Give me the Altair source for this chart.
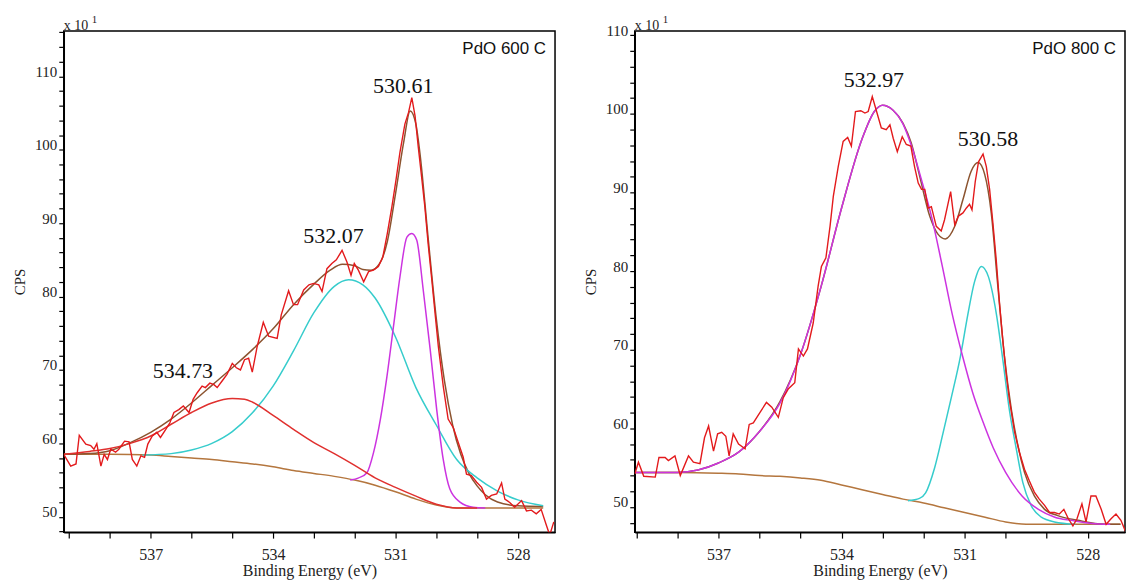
import altair as alt
import pandas as pd

SERIF = "Liberation Serif"
SANS = "Liberation Sans"

# ---------------- PdO 600 C ----------------
p600_raw_E = [539.13, 538.96, 538.83, 538.75, 538.59, 538.47, 538.39, 538.32, 538.22, 538.14,
              538.06, 537.98, 537.86, 537.78, 537.64, 537.53, 537.45, 537.34, 537.24, 537.15,
              537.07, 536.96, 536.85, 536.76, 536.63, 536.53, 536.43, 536.31, 536.20, 536.06,
              535.96, 535.86, 535.74, 535.66, 535.55, 535.45, 535.37, 535.25, 535.13, 535.00,
              534.90, 534.80, 534.70, 534.60, 534.51, 534.39, 534.24, 534.11, 533.90, 533.80,
              533.62, 533.50, 533.40, 533.25, 533.12, 533.01, 532.88, 532.80, 532.68, 532.56,
              532.45, 532.31, 532.19, 532.09, 532.01, 531.91, 531.78, 531.66, 531.54, 531.42,
              531.31, 531.20, 531.09, 530.99, 530.89, 530.77, 530.68, 530.60, 530.52, 530.44,
              530.36, 530.28, 530.20, 530.11, 530.03, 529.95, 529.91, 529.83, 529.71, 529.58,
              529.46, 529.34, 529.26, 529.14, 529.01, 528.89, 528.77, 528.65, 528.52, 528.40,
              528.32, 528.20, 528.08, 527.91, 527.79, 527.67, 527.55, 527.43, 527.30, 527.22,
              527.12]
p600_raw_V = [58.5, 56.9, 57.2, 61.1, 59.9, 59.7, 59.2, 59.95, 56.9, 58.5,
              57.8, 59.2, 58.8, 59.2, 60.3, 60.2, 57.8, 56.9, 58.3, 58.1,
              59.9, 61.0, 61.5, 60.8, 61.9, 62.8, 64.2, 64.6, 65.1, 64.2,
              66.0, 66.9, 67.8, 67.6, 68.2, 68.0, 67.6, 68.5, 69.4, 70.9,
              70.3, 70.0, 71.4, 71.6, 69.7, 73.2, 76.5, 74.6, 74.3, 77.5,
              80.8, 78.9, 78.9, 80.9, 81.6, 81.8, 81.6, 80.7, 83.8, 84.5,
              85.0, 86.3, 84.7, 82.9, 84.5, 83.6, 82.0, 83.4, 83.6, 84.1,
              85.4, 88.6, 92.2, 95.8, 99.7, 103.5, 105.1, 107.1, 104.6, 100.3,
              96.3, 92.2, 87.2, 82.3, 77.7, 73.2, 71.4, 67.8, 63.3, 62.1,
              60.1, 58.1, 55.8, 55.6, 54.7, 54.0, 52.4, 52.9, 53.1, 54.6,
              52.4, 51.95, 51.3, 52.2, 50.8, 50.9, 50.4, 51.0, 48.8, 47.5,
              49.3]

p600_env_E = [539.13, 538.5, 538.0, 537.5, 537.0, 536.5, 536.0, 535.5, 535.0, 534.5, 534.0,
              533.5, 533.0, 532.6, 532.3, 532.0, 531.8, 531.6, 531.4, 531.2, 531.0, 530.8,
              530.64, 530.5, 530.4, 530.2, 530.0, 529.8, 529.6, 529.4, 529.2, 529.0, 528.8,
              528.5, 528.0, 527.38]
p600_env_V = [58.5, 58.6, 59.0, 60.1, 61.5, 63.3, 65.5, 67.9, 70.3, 72.8, 75.6,
              78.9, 81.7, 83.6, 84.4, 84.2, 83.7, 83.6, 84.4, 87.5, 94.0, 101.0,
              105.3, 103.5, 99.5, 88.0, 77.0, 68.5, 62.5, 58.5, 55.9, 54.2, 53.0,
              52.0, 51.5, 51.4]

p600_bg_E = [539.13, 538.0, 537.0, 536.5, 536.0, 535.5, 535.0, 534.5, 534.0, 533.5, 533.0,
             532.5, 532.0, 531.5, 531.0, 530.5, 530.0, 529.5, 529.0, 527.38]
p600_bg_V = [58.5, 58.5, 58.4, 58.2, 58.0, 57.8, 57.5, 57.2, 56.8, 56.3, 55.9,
             55.5, 55.0, 54.3, 53.4, 52.4, 51.6, 51.2, 51.2, 51.2]

p600_c1_E = [539.13, 538.5, 538.0, 537.5, 537.0, 536.5, 536.0, 535.5, 535.0, 534.7, 534.5,
             534.0, 533.5, 533.0, 532.5, 532.0, 531.5, 531.0, 530.5, 530.0, 529.5, 529.0]
p600_c1_V = [58.5, 58.9, 59.3, 60.0, 61.0, 62.6, 64.2, 65.5, 66.1, 66.0, 65.6,
             63.8, 61.9, 60.1, 58.6, 57.0, 55.3, 54.0, 52.8, 51.7, 51.2, 51.2]

p600_c2_E = [537.2, 536.5, 536.0, 535.5, 535.0, 534.5, 534.0, 533.5, 533.0, 532.5, 532.15,
             531.8, 531.5, 531.0, 530.5, 530.0, 529.5, 529.0, 528.5, 528.0, 527.38]
p600_c2_V = [58.4, 58.6, 59.1, 60.0, 61.6, 64.2, 67.8, 72.6, 77.8, 81.4, 82.3,
             81.6, 79.8, 74.5, 67.6, 62.5, 57.8, 55.3, 53.5, 52.3, 51.5]

p600_c3_E = [532.11, 531.9, 531.70, 531.54, 531.37, 531.21, 531.05, 530.89, 530.72, 530.60,
             530.48, 530.32, 530.15, 529.99, 529.83, 529.67, 529.42, 529.10, 528.8]
p600_c3_V = [55.0, 55.3, 56.0, 58.7, 63.3, 69.1, 75.9, 82.7, 88.1, 88.6,
             87.7, 80.9, 72.8, 64.6, 57.8, 53.8, 52.0, 51.3, 51.2]

p600_lab_text = ["530.61", "532.07", "534.73"]
p600_lab_E = [530.81, 532.52, 536.21]
p600_lab_V = [107.8, 87.3, 68.9]

# ---------------- PdO 800 C ----------------
p800_raw_E = [539.04, 538.95, 538.82, 538.54, 538.45, 538.30, 538.22, 538.06, 537.93, 537.73,
              537.61, 537.45, 537.34, 537.24, 537.12, 537.02, 536.92, 536.82, 536.74, 536.64,
              536.51, 536.35, 536.25, 536.15, 535.99, 535.83, 535.70, 535.54, 535.42, 535.30,
              535.14, 535.05, 534.93, 534.83, 534.69, 534.57, 534.49, 534.38, 534.28, 534.20,
              534.08, 533.96, 533.85, 533.76, 533.66, 533.53, 533.43, 533.35, 533.25, 533.15,
              533.03, 532.91, 532.82, 532.74, 532.64, 532.52, 532.42, 532.31, 532.22, 532.13,
              532.05, 531.97, 531.89, 531.81, 531.69, 531.57, 531.49, 531.34, 531.24, 531.15,
              531.04, 530.96, 530.88, 530.82, 530.74, 530.66, 530.55, 530.47, 530.39, 530.31,
              530.23, 530.15, 530.07, 529.99, 529.91, 529.78, 529.66, 529.54, 529.42, 529.30,
              529.18, 529.05, 528.93, 528.81, 528.69, 528.58, 528.47, 528.36, 528.26, 528.14,
              528.04, 527.92, 527.80, 527.67, 527.55, 527.43, 527.31, 527.19, 527.07]
p800_raw_V = [54.2, 55.7, 53.9, 53.8, 56.3, 56.3, 55.9, 56.5, 54.0, 56.5,
              55.7, 55.5, 58.8, 60.3, 57.1, 59.3, 59.5, 59.0, 56.5, 59.3,
              58.0, 57.4, 60.5, 60.7, 62.0, 63.3, 62.7, 61.4, 63.9, 65.0,
              65.8, 70.1, 69.2, 70.1, 73.4, 78.1, 80.6, 81.7, 85.7, 89.5,
              93.3, 96.5, 97.0, 95.9, 100.3, 100.4, 100.1, 100.3, 102.2, 100.4,
              98.2, 98.0, 98.6, 96.9, 95.2, 97.1, 96.1, 95.9, 93.3, 91.2,
              90.4, 90.4, 88.0, 88.2, 85.7, 85.1, 86.5, 90.1, 85.9, 87.0,
              87.4, 88.0, 88.5, 87.8, 91.4, 93.9, 94.9, 93.3, 90.4, 86.1,
              81.5, 76.0, 71.3, 67.1, 63.7, 59.5, 56.9, 54.8, 53.3, 51.9,
              51.0, 50.2, 49.3, 49.3, 49.1, 49.7, 48.5, 47.6, 48.5, 50.4,
              48.1, 51.4, 51.4, 49.7, 47.8, 48.5, 49.1, 48.3, 46.8]

p800_env_E = [539.04, 538.0, 537.5, 537.0, 536.5, 536.0, 535.5, 535.0, 534.5, 534.0, 533.5,
              533.2, 533.0, 532.75, 532.5, 532.3, 532.1, 531.85, 531.65, 531.47, 531.24,
              531.04, 530.84, 530.67, 530.51, 530.35, 530.19, 530.03, 529.86, 529.7,
              529.54, 529.3, 529.05, 528.73, 528.24, 527.59, 527.2]
p800_env_V = [54.4, 54.4, 54.7, 55.6, 57.0, 59.6, 63.4, 69.4, 78.0, 88.0, 96.8,
              100.3, 101.1, 100.5, 98.8, 96.3, 92.2, 87.0, 84.7, 84.1, 85.7,
              89.1, 92.7, 93.8, 92.3, 87.4, 78.1, 69.2, 62.4, 57.8,
              54.4, 51.4, 49.7, 48.9, 48.3, 47.8, 47.8]

p800_bg_E = [539.04, 538.0, 537.0, 536.5, 536.0, 535.5, 535.0, 534.5, 534.0, 533.5, 533.0,
             532.5, 532.0, 531.5, 531.0, 530.5, 530.0, 529.5, 527.2]
p800_bg_V = [54.4, 54.4, 54.3, 54.2, 54.0, 53.9, 53.7, 53.4, 52.8, 52.2, 51.6,
             51.0, 50.5, 49.9, 49.3, 48.7, 48.1, 47.8, 47.8]

p800_c1_E = [539.04, 538.0, 537.5, 537.0, 536.5, 536.0, 535.5, 535.0, 534.5, 534.0, 533.5,
             533.2, 533.0, 532.75, 532.5, 532.3, 532.05, 531.8, 531.55, 531.3, 531.05,
             530.8, 530.55, 530.3, 530.0, 529.6, 529.2, 528.8, 528.4, 527.6, 527.45]
p800_c1_V = [54.4, 54.4, 54.7, 55.6, 57.0, 59.6, 63.2, 69.4, 78.0, 88.0, 96.8,
             100.3, 101.1, 100.5, 98.7, 96.0, 91.6, 86.8, 80.8, 74.5, 69.2,
             64.5, 60.8, 57.5, 54.4, 51.4, 49.7, 48.7, 48.3, 47.8, 47.8]

p800_c2_E = [532.38, 532.1, 531.95, 531.73, 531.53, 531.32, 531.1, 530.92, 530.76, 530.59,
             530.42, 530.23, 530.07, 529.91, 529.74, 529.58, 529.38, 529.13, 528.81, 528.3]
p800_c2_V = [50.8, 51.1, 51.8, 55.0, 59.3, 64.0, 69.2, 74.5, 78.6, 80.6,
             79.3, 74.7, 68.8, 62.4, 57.4, 53.1, 50.2, 48.7, 48.1, 47.8]

p800_lab_text = ["532.97", "530.58"]
p800_lab_E = [533.21, 530.43]
p800_lab_V = [103.4, 95.85]

C_RAW = "#E31A1C"
C_ENV = "#8C5430"
C_BG = "#B4763E"
C_RED = "#E0302E"
C_CYAN = "#36CCCC"
C_MAG = "#CC33E0"


def xy(E, V):
    return pd.DataFrame({"E": E, "V": V})


def panel(name, xdom, ydom, series, labels, w, h):
    xenc = alt.X("E:Q", title="Binding Energy (eV)",
                 scale=alt.Scale(domain=xdom, reverse=True, nice=False, zero=False),
                 axis=alt.Axis(values=list(range(528, 540)),
                               labelExpr="datum.value % 3 == 0 ? datum.label : ''",
                               tickSize=6, tickWidth=1.2, tickColor="black",
                               domainColor="black", domainWidth=1.5,
                               labelFont=SERIF, labelFontSize=16, labelColor="#222",
                               labelPadding=8, titleFont=SERIF, titleFontSize=16,
                               titleFontWeight="normal", titleColor="#222",
                               titlePadding=1, grid=False))
    yenc = alt.Y("V:Q", title="CPS",
                 scale=alt.Scale(domain=ydom, nice=False, zero=False),
                 axis=alt.Axis(values=list(range(48, 117, 2)),
                               labelExpr="datum.value % 10 == 0 ? datum.label : ''",
                               tickSize=5, tickWidth=1.2, tickColor="black",
                               domainColor="black", domainWidth=1.5,
                               labelFont=SERIF, labelFontSize=15, labelColor="#222",
                               labelPadding=2, labelBaseline="alphabetic",
                               titleFont=SERIF, titleFontSize=15,
                               titleFontWeight="normal", titleColor="#222",
                               titlePadding=7, grid=False))
    layers = []
    for (E, V, col, interp, sw) in series:
        layers.append(
            alt.Chart(xy(E, V)).mark_line(color=col, strokeWidth=sw, interpolate=interp,
                                          clip=True)
            .encode(x=xenc, y=yenc)
        )
    lab = pd.DataFrame({"E": labels[1], "V": labels[2], "t": labels[0]})
    layers.append(
        alt.Chart(lab).mark_text(font=SERIF, fontSize=22, color="#111", align="center",
                                 baseline="alphabetic")
        .encode(x=xenc, y=yenc, text="t:N")
    )
    one = pd.DataFrame({"t": [name]})
    layers.append(
        alt.Chart(one).mark_text(font=SANS, fontSize=17, color="#111", align="right",
                                 baseline="alphabetic")
        .encode(x=alt.value(w - 9), y=alt.value(23), text="t:N")
    )
    layers.append(
        alt.Chart(pd.DataFrame({"t": ["x 10"]})).mark_text(
            font=SERIF, fontSize=14, color="#222", align="left", baseline="alphabetic")
        .encode(x=alt.value(0), y=alt.value(-1), text="t:N")
    )
    layers.append(
        alt.Chart(pd.DataFrame({"t": ["1"]})).mark_text(
            font=SERIF, fontSize=11, color="#222", align="left", baseline="alphabetic")
        .encode(x=alt.value(28), y=alt.value(-8), text="t:N")
    )
    return alt.layer(*layers).properties(width=w, height=h)


left = panel(
    "PdO 600 C", [527.09, 539.13], [47.9, 116.2],
    [
        (p600_bg_E, p600_bg_V, C_BG, "monotone", 1.5),
        (p600_env_E, p600_env_V, C_ENV, "monotone", 1.5),
        (p600_c2_E, p600_c2_V, C_CYAN, "monotone", 1.5),
        (p600_c3_E, p600_c3_V, C_MAG, "monotone", 1.5),
        (p600_c1_E, p600_c1_V, C_RED, "monotone", 1.5),
        (p600_raw_E, p600_raw_V, C_RAW, "linear", 1.4),
    ],
    (p600_lab_text, p600_lab_E, p600_lab_V), 493, 503)

right = panel(
    "PdO 800 C", [527.09, 539.04], [46.8, 110.55],
    [
        (p800_bg_E, p800_bg_V, C_BG, "monotone", 1.5),
        (p800_env_E, p800_env_V, C_ENV, "monotone", 1.5),
        (p800_c2_E, p800_c2_V, C_CYAN, "monotone", 1.5),
        (p800_c1_E, p800_c1_V, C_MAG, "monotone", 1.5),
        (p800_raw_E, p800_raw_V, C_RAW, "linear", 1.4),
    ],
    (p800_lab_text, p800_lab_E, p800_lab_V), 492, 503)

chart = (
    alt.hconcat(left, right, spacing=26)
    .properties(padding={"left": 11, "top": 12, "right": 0, "bottom": 0},
                background="white")
    .configure_view(stroke="black", strokeWidth=1.5)
)

chart.save("out.html", embed_options={"renderer": "svg", "actions": False})
